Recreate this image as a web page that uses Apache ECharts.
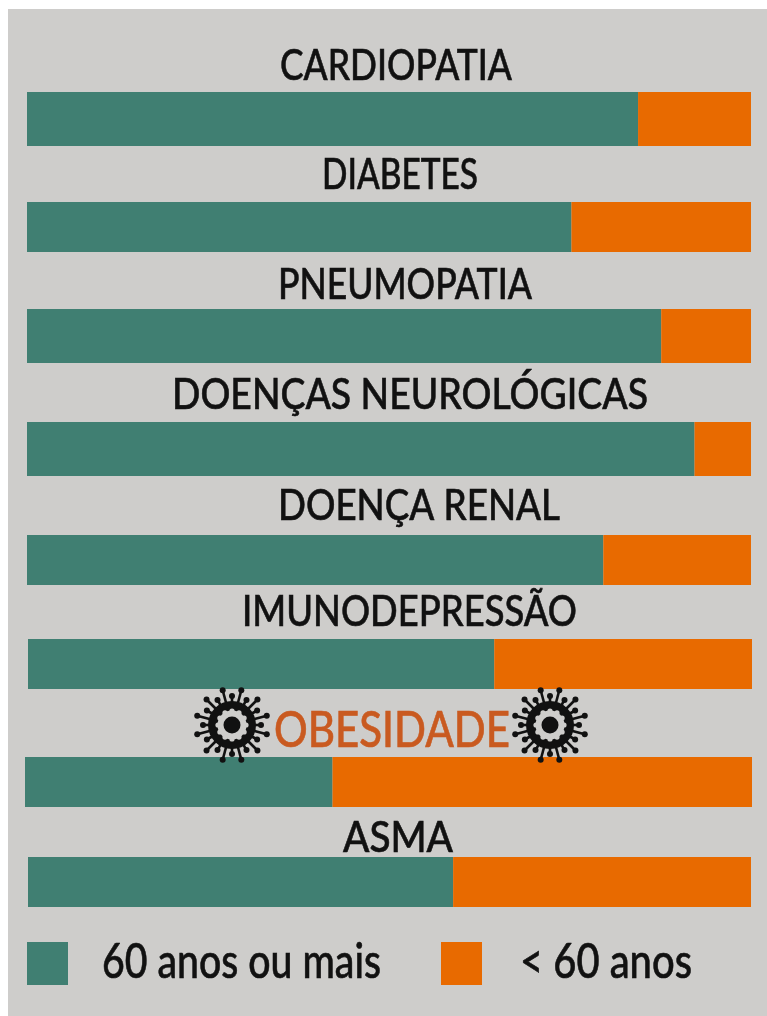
<!DOCTYPE html>
<html>
<head>
<meta charset="utf-8">
<script src="https://cdn.jsdelivr.net/npm/echarts@6/dist/echarts.min.js"></script>
<style>
  html, body { margin: 0; padding: 0; background: #ffffff; }
  #chart { width: 767px; height: 1016px; }
</style>
</head>
<body>
<div id="chart"></div>
<script>
const categorias = ["CARDIOPATIA", "DIABETES", "PNEUMOPATIA", "DOENÇAS NEUROLÓGICAS", "DOENÇA RENAL", "IMUNODEPRESSÃO", "OBESIDADE", "ASMA"];
const maisDe60 = [84.4, 75.2, 87.6, 92.2, 79.6, 64.4, 42.3, 58.8];
const menosDe60 = [15.6, 24.8, 12.4, 7.8, 20.4, 35.6, 57.7, 41.2];
const nomeMais = "60 anos ou mais";
const nomeMenos = "< 60 anos";

// layout, px: [left, top, width, height] of each bar
const barras = [[27, 92, 724, 54], [27, 202, 724, 50], [27, 309, 724, 54], [27, 422, 724, 54], [27, 535, 724, 50], [28, 639, 724, 50], [25, 757, 727, 50], [28, 857, 723, 50]];
// layout, px: [left, right, middle y] of each title
const titulos = [[280, 512, 66], [322, 478, 175], [278, 532, 285], [172, 648, 395], [278, 560, 506], [242, 577, 612], [274, 510, 731], [343, 453, 838]];
const virus = [[232, 725], [550, 725]];
// layout, px: [left, right, middle y] of the legend labels
const rotulos = [[102, 381, 963], [520, 692, 963]];

const VERDE = "#407f72";
const LARANJA = "#e86a00";
const FUNDO = "#cecdcb";
const PRETO = "#111111";
const FONTE = "Lato";
const ctx = document.createElement("canvas").getContext("2d");

// Lato is wider than the original lettering, so each text is squeezed into its box
function textoGraphic(texto, [esq, dir, y], tamanho, cor) {
    const font = `500 ${tamanho}px ${FONTE}`;
    ctx.font = font;
    return {
        type: "text",
        x: esq,
        y: y,
        scaleX: (dir - esq) / ctx.measureText(texto).width,
        z: 5,
        style: {
            text: texto,
            font: font,
            fill: cor,
            stroke: cor,
            lineWidth: 0.6,
            textAlign: "left",
            textVerticalAlign: "middle"
        }
    };
}

function tituloGraphic(nome, i) {
    const obesidade = nome === "OBESIDADE";
    return textoGraphic(nome, titulos[i], obesidade ? 50 : 43, obesidade ? "#c95a20" : PRETO);
}

// the spikes reach over the bar below, so every part needs its own z
function virusGraphic([cx, cy]) {
    const filhos = [];
    for (let k = 0; k < 24; k++) {
        const a = k * Math.PI / 12;
        const r = k % 2 ? 36 : 29;
        filhos.push({
            type: "line",
            z: 5,
            shape: { x1: 0, y1: 0, x2: r * Math.sin(a), y2: -r * Math.cos(a) },
            style: { stroke: PRETO, lineWidth: 2.6 }
        });
        filhos.push({
            type: "circle",
            z: 5,
            shape: { cx: r * Math.sin(a), cy: -r * Math.cos(a), r: 3 },
            style: { fill: PRETO }
        });
    }
    filhos.push({ type: "circle", z: 6, shape: { cx: 0, cy: 0, r: 24 }, style: { fill: PRETO } });
    filhos.push({ type: "circle", z: 7, shape: { cx: 0, cy: 0, r: 14.5 }, style: { fill: FUNDO } });
    for (let k = 0; k < 12; k++) {
        const a = k * Math.PI / 6;
        filhos.push({
            type: "circle",
            z: 7,
            shape: { cx: 14 * Math.sin(a), cy: -14 * Math.cos(a), r: 2.6 },
            style: { fill: FUNDO }
        });
    }
    filhos.push({ type: "circle", z: 8, shape: { cx: 0, cy: 0, r: 8.5 }, style: { fill: PRETO } });
    return { type: "group", x: cx, y: cy, children: filhos };
}

const chart = echarts.init(document.getElementById("chart"));

chart.setOption({
    animation: false,
    backgroundColor: "#ffffff",
    grid: barras.map(([left, top, width, height]) => ({ left, top, width, height })),
    xAxis: barras.map((_, i) => ({ type: "value", gridIndex: i, min: 0, max: 100, show: false })),
    yAxis: barras.map((_, i) => ({ type: "category", gridIndex: i, data: [categorias[i]], show: false })),
    legend: [
        {
            data: [{ name: nomeMais, icon: "rect" }],
            left: 27, top: 942, padding: 0,
            itemWidth: 41, itemHeight: 43,
            formatter: () => ""
        },
        {
            data: [{ name: nomeMenos, icon: "rect" }],
            left: 441, top: 942, padding: 0,
            itemWidth: 41, itemHeight: 43,
            formatter: () => ""
        }
    ],
    series: categorias.flatMap((nome, i) => [
        {
            name: nomeMais, type: "bar", stack: nome, xAxisIndex: i, yAxisIndex: i,
            barWidth: "100%", data: [maisDe60[i]], itemStyle: { color: VERDE }
        },
        {
            name: nomeMenos, type: "bar", stack: nome, xAxisIndex: i, yAxisIndex: i,
            barWidth: "100%", data: [menosDe60[i]], itemStyle: { color: LARANJA }
        }
    ]),
    graphic: [
        { type: "rect", z: -10, shape: { x: 8, y: 9, width: 759, height: 1007 }, style: { fill: FUNDO } },
        ...categorias.map(tituloGraphic),
        ...virus.map(virusGraphic),
        textoGraphic(nomeMais, rotulos[0], 48, PRETO),
        textoGraphic(nomeMenos, rotulos[1], 48, PRETO)
    ]
});
</script>
</body>
</html>
